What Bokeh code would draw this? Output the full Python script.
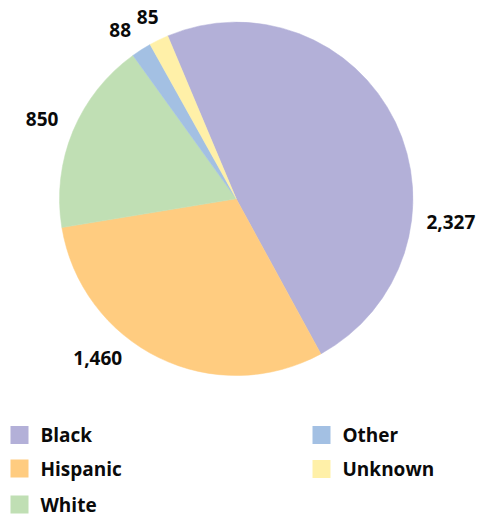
import math
from bokeh.plotting import figure
from bokeh.models import Range1d, ColumnDataSource
from bokeh.core.properties import value
from bokeh.embed import file_html
from bokeh.resources import INLINE

# ---- data ----
categories = ["Black", "Hispanic", "White", "Other", "Unknown"]
counts = [2327, 1460, 850, 88, 85]
labels = ["2,327", "1,460", "850", "88", "85"]
colors = ["#b3b0d8", "#ffcc80", "#c0dfb4", "#a3c0e3", "#fff0a8"]

# ---- style / layout ----
W, H = 477, 516
FONT = "Open Sans"
FS = "19px"
cx, cy_screen, R = 235.7, 198.3, 176.7
start_cw_deg = -22.8          # first slice starts 22.8 deg left of 12 o'clock, clockwise
label_shift_deg = [32, 15, 0, -2, 0]
label_dist = [216, 211, 210, 205, 202]

def sy(y):  # screen y -> data y
    return H - y

cy = sy(cy_screen)

p = figure(width=W, height=H, output_backend="svg", toolbar_location=None,
           x_range=Range1d(0, W), y_range=Range1d(0, H),
           min_border=0)
p.axis.visible = False
p.grid.visible = False
p.outline_line_color = None
p.background_fill_color = "white"
p.border_fill_color = "white"

total = sum(counts)
starts, ends, lx, ly = [], [], [], []
a = start_cw_deg
for i, c in enumerate(counts):
    span = 360.0 * c / total
    a0, a1 = a, a + span
    starts.append(math.radians(90 - a0))
    ends.append(math.radians(90 - a1))
    mid = (a0 + a1) / 2 + label_shift_deg[i]
    lx.append(cx + label_dist[i] * math.sin(math.radians(mid)))
    ly.append(cy + label_dist[i] * math.cos(math.radians(mid)))
    a = a1

src = ColumnDataSource(dict(start=starts, end=ends, color=colors,
                            lx=lx, ly=ly, label=labels, cat=categories))
p.wedge(x=cx, y=cy, radius=R, start_angle="start", end_angle="end",
        direction="clock", fill_color="color", line_color="color",
        line_width=0.5, source=src)

p.text(x="lx", y="ly", text="label", source=src, text_font=value(FONT),
       text_font_style="bold", text_font_size=FS, text_align="center",
       text_baseline="middle", text_color="#0a0a0a")

# ---- legend (manual, two columns) ----
leg_sq_x = [19, 19, 19, 321, 321]
leg_y = [434.5, 468, 504, 434.5, 468.5]
leg_tx = [40, 40, 40, 342, 342]
lsrc = ColumnDataSource(dict(x=leg_sq_x, y=[sy(v) for v in leg_y],
                             tx=leg_tx, color=colors, cat=categories))
p.rect(x="x", y="y", width=18, height=18, fill_color="color",
       line_color=None, source=lsrc)
p.text(x="tx", y="y", text="cat", source=lsrc, text_font=value(FONT),
       text_font_style="bold", text_font_size=FS, text_align="left",
       text_baseline="middle", text_color="#0a0a0a")

open("out.html", "w").write(file_html(p, INLINE))
